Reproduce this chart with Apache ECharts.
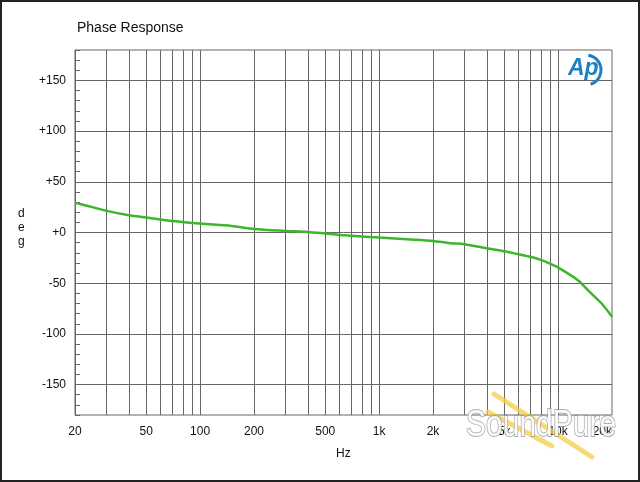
<!DOCTYPE html>
<html>
<head>
<meta charset="utf-8">
<script src="https://cdn.jsdelivr.net/npm/echarts@6/dist/echarts.min.js"></script>
<style>
	html, body { margin: 0; padding: 0; background: #fff; }
	#chart { width: 640px; height: 482px; }
</style>
</head>
<body>
<div id="chart"></div>
<script>
// phase response (Hz, degrees)
const freqs = [20, 25, 30, 40, 50, 70, 100, 150, 200, 300, 400, 500, 600, 700, 1000, 1500, 2000, 2500, 3000, 4000, 5000, 6000, 7000, 8000, 9000, 10000, 12900, 15000, 17500, 20000];
const phase = [29.5, 25, 21.3, 17, 14.8, 11.4, 8.8, 6.5, 3.5, 1.6, 0.6, -1, -2.4, -3.2, -5, -6.8, -8.3, -10.6, -11.5, -15.5, -18.4, -21.4, -24, -27, -30.6, -34.5, -47, -58.6, -70, -83];
const gridFreqs = [30, 40, 50, 60, 70, 80, 90, 100, 200, 300, 400, 500, 600, 700, 800, 900, 1000, 2000, 3000, 4000, 5000, 6000, 7000, 8000, 9000, 10000];
const labelFreqs = [20, 50, 100, 200, 500, 1000, 2000, 5000, 10000, 20000];
const yTicks = [-150, -100, -50, 0, 50, 100, 150];

const gridColor = '#666';
const font = 'Arial, "Liberation Sans", sans-serif';

const chart = echarts.init(document.getElementById('chart'));

const fmtHz = v => {
	let f = Math.round(Math.pow(10, v));
	return f >= 1000 ? (f / 1000) + 'k' : String(f);
};

chart.setOption({
	animation: false,
	grid: {
		left: 75, right: 28, top: 50, bottom: 67,
		show: true, borderColor: gridColor, borderWidth: 1
	},
	graphic: [
		{
			type: 'rect', shape: { x: 1, y: 1, width: 638, height: 480 },
			style: { fill: 'none', stroke: '#222', lineWidth: 2 }, z: 10
		},
		{
			type: 'text', left: 77, top: 21,
			style: { text: 'Phase Response', font: '14px ' + font, fill: '#111' }
		},
		{
			type: 'text', left: 18, top: 207,
			style: { text: 'd\ne\ng', font: '12px ' + font, fill: '#111', lineHeight: 14, align: 'center', width: 10 }
		},
		{
			type: 'text', left: 336, top: 448,
			style: { text: 'Hz', font: '12px ' + font, fill: '#111' }
		},
		// AP logo
		{
			type: 'text', left: 568, top: 57,
			style: { text: 'Ap', font: 'italic bold 23px ' + font, fill: '#1f7fc0' }, z: 5
		},
		{
			type: 'arc', shape: { cx: 586, cy: 70, r: 15, startAngle: -Math.PI * 0.45, endAngle: Math.PI * 0.4 },
			style: { stroke: '#1f7fc0', lineWidth: 3, fill: 'none' }, z: 5
		},
		// watermark
		{
			type: 'polyline', shape: { points: [[494, 394], [592, 457]] },
			style: { stroke: 'rgba(245,205,70,0.75)', lineWidth: 5, lineCap: 'round' }, z: 20
		},
		{
			type: 'polyline', shape: { points: [[488, 412], [552, 446]] },
			style: { stroke: 'rgba(245,205,70,0.75)', lineWidth: 5, lineCap: 'round' }, z: 20
		},
		{
			type: 'text', x: 466, y: 408, scaleY: 1.2,
			style: { text: 'SoundPure', font: '30px ' + font, fill: 'rgba(255,255,255,0.92)', stroke: 'rgba(140,140,140,0.7)', lineWidth: 1.5 }, z: 21
		}
	],
	xAxis: {
		type: 'value',
		min: Math.log10(20),
		max: Math.log10(20000),
		axisLine: { show: false, onZero: false },
		splitLine: { show: false },
		axisTick: {
			show: true, inside: true, length: 365,
			customValues: gridFreqs.map(f => Math.log10(f)),
			lineStyle: { color: gridColor, width: 1 }
		},
		axisLabel: {
			customValues: labelFreqs.map(f => Math.log10(f)),
			formatter: fmtHz,
			margin: 11,
			alignMaxLabel: 'right',
			color: '#111', fontSize: 12, fontFamily: font
		}
	},
	yAxis: [
		{
			type: 'value', min: -180, max: 180,
			axisLine: { show: true, lineStyle: { color: gridColor } },
			splitLine: { show: false },
			axisTick: {
				show: true, inside: true, length: 537,
				customValues: yTicks,
				lineStyle: { color: gridColor, width: 1 }
			},
			axisLabel: {
				customValues: yTicks,
				formatter: v => v >= 0 ? '+' + v : String(v),
				margin: 9,
				color: '#111', fontSize: 12, fontFamily: font
			}
		},
		{
			type: 'value', min: -180, max: 180, interval: 10, position: 'left',
			axisLine: { show: false },
			splitLine: { show: false },
			axisTick: { show: true, inside: true, length: 5, lineStyle: { color: gridColor } },
			axisLabel: { show: false }
		}
	],
	series: [{
		type: 'line',
		data: freqs.map((f, i) => [Math.log10(f), phase[i]]),
		smooth: 0.3,
		showSymbol: false,
		lineStyle: { color: '#3cb62a', width: 2.5 },
		z: 5
	}]
});
</script>
</body>
</html>
